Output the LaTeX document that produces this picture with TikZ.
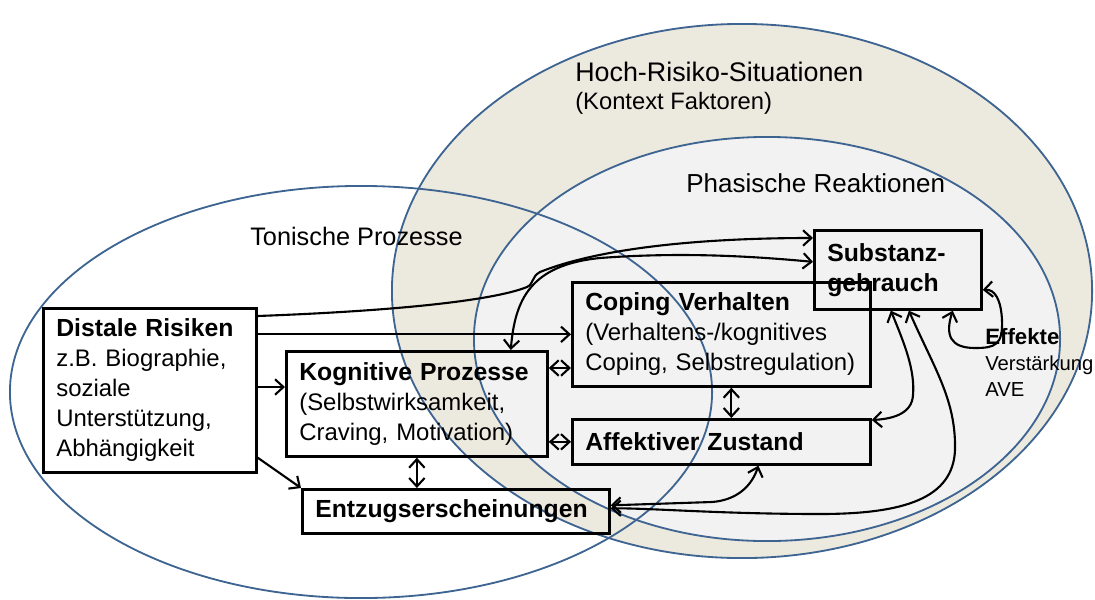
\documentclass[tikz,border=0pt]{standalone}
\usepackage{fontspec}
\setmainfont{Liberation Sans}
\usetikzlibrary{arrows.meta,calc}
\definecolor{zoneblue}{RGB}{62,100,145}
\definecolor{zonebeige}{RGB}{236,233,223}
\definecolor{zonegray}{RGB}{242,242,242}
\newcommand{\boxfont}{\fontsize{17}{21.3}\selectfont}
\newcommand{\boxhead}[1]{{\bfseries\fontsize{17.6}{21.3}\selectfont #1}}
\tikzset{
  zone/.style={draw=zoneblue,line width=1.3pt},
  label/.style={anchor=west,inner sep=0pt},
  box/.style={draw,line width=1.9pt,anchor=north west,align=left,
    inner xsep=0.325cm,inner ysep=0pt,font=\boxfont},
  conn/.style={line width=1.5pt},
}

\begin{document}
\begin{tikzpicture}[x=0.025cm,y=-0.025cm,>={Straight Barb[length=6pt,width=11pt]}]
\useasboundingbox (0,0) rectangle (1095,599);
% zones
\fill[zonebeige] (742,291) ellipse [x radius=8.75cm,y radius=6.675cm];
\fill[zonegray] (767,339) ellipse [x radius=7.325cm,y radius=5.05cm];
\draw[zone] (742,291) ellipse [x radius=8.75cm,y radius=6.675cm];
\draw[zone] (767,339) ellipse [x radius=7.325cm,y radius=5.05cm];
\draw[zone] (361,392) ellipse [x radius=8.775cm,y radius=5.15cm];
% zone labels
\node[label,font=\fontsize{19.1}{22}\selectfont] (hoch) at (575,72) {Hoch-Risiko-Situationen};
\node[label,font=\fontsize{16.9}{20}\selectfont] (kontext) at (575,103) {(Kontext Faktoren)};
\node[label,font=\fontsize{18.5}{22}\selectfont] (phas) at (686,183) {Phasische Reaktionen};
\node[label,font=\fontsize{18}{22}\selectfont] (ton) at (250,236) {Tonische Prozesse};
% boxes
\node[box,text width=4.675cm,minimum height=4.1cm] (dist) at (42,307)
  {\boxhead{Distale Risiken}\\z.B. Biographie,\\soziale\\Unterstützung,\\Abhängigkeit};
\node[box,text width=5.875cm,minimum height=2.625cm] (kog) at (285,350)
  {\boxhead{Kognitive Prozesse}\\(Selbstwirksamkeit,\\Craving, Motivation)};
\node[box,text width=7.025cm,minimum height=1.1cm] (entz) at (301,488)
  {\boxhead{Entzugserscheinungen}};
\node[box,text width=6.8cm,minimum height=2.6cm] (cop) at (571,281)
  {\boxhead{Coping Verhalten}\\(Verhaltens-/kognitives\\Coping, Selbstregulation)};
\node[box,text width=6.8cm,minimum height=1.125cm] (aff) at (571,418)
  {\boxhead{Affektiver Zustand}};
\node[box,text width=3.525cm,minimum height=1.975cm] (sub) at (813,229)
  {\boxhead{Substanz-}\\\boxhead{gebrauch}};
% effects
\node[label,font=\bfseries\fontsize{15.8}{18}\selectfont] (eff) at (985,337) {Effekte};
\node[anchor=north west,inner sep=0pt,align=left,font=\fontsize{14.4}{18.5}\selectfont]
  (verst) at (985,356) {Verstärkung\\AVE};
% arrows
\draw[conn,->] ($(dist.north east)+(0,9)$) .. controls (420,310) and (500,298) .. (527,287)
  .. controls (534,284) and (531,277) .. (540,272)
  .. controls (600,248) and (700,238) .. ($(sub.north west)+(0,9)$);
\draw[conn,<->] ($(kog.north east)+(-38,0)$) .. controls (515,300) and (530,265) .. (600,258)
  .. controls (680,252) and (750,256) .. ($(sub.west)+(0,-8)$);
\draw[conn,->] (dist.east |- cop.west) -- (cop.west);
\draw[conn,->] ($(dist.north east)+(0,80)$) -- ($(kog.north west)+(0,37)$);
\draw[conn,->] ($(dist.south east)+(0,-16)$) -- (entz.north west);
\draw[conn,<->] (kog.south) -- (kog.south |- entz.north);
\draw[conn,<->] ($(kog.north east)+(0,18)$) -- ($(cop.north west)+(0,87)$);
\draw[conn,<->] (kog.east |- aff.west) -- (aff.west);
\draw[conn,<->] ($(cop.south)+(10,0)$) -- ($(aff.north)+(10,0)$);
\draw[conn,<->] ($(aff.south)+(37,0)$) .. controls (752,485) and (738,500) .. (712,502)
  -- ($(entz.east)+(0,-6)$);
\draw[conn,<->] ($(sub.south)+(11,0)$) .. controls (935,370) and (956,400) .. (955,450)
  .. controls (953,498) and (905,514) .. (820,514)
  .. controls (720,514) and (650,508) .. ($(entz.east)+(0,-3)$);
\draw[conn,<->] ($(sub.south)+(-7,0)$) .. controls (905,345) and (915,370) .. (913,395)
  .. controls (912,415) and (890,419) .. ($(aff.north east)+(0,2)$);
\draw[conn,<->] ($(sub.south east)+(-30,0)$) .. controls (945,335) and (950,348) .. (975,348)
  .. controls (995,348) and (1003,345) .. (1002,320)
  .. controls (1001,300) and (995,289) .. ($(sub.east)+(0,20)$);
\end{tikzpicture}
\end{document}
